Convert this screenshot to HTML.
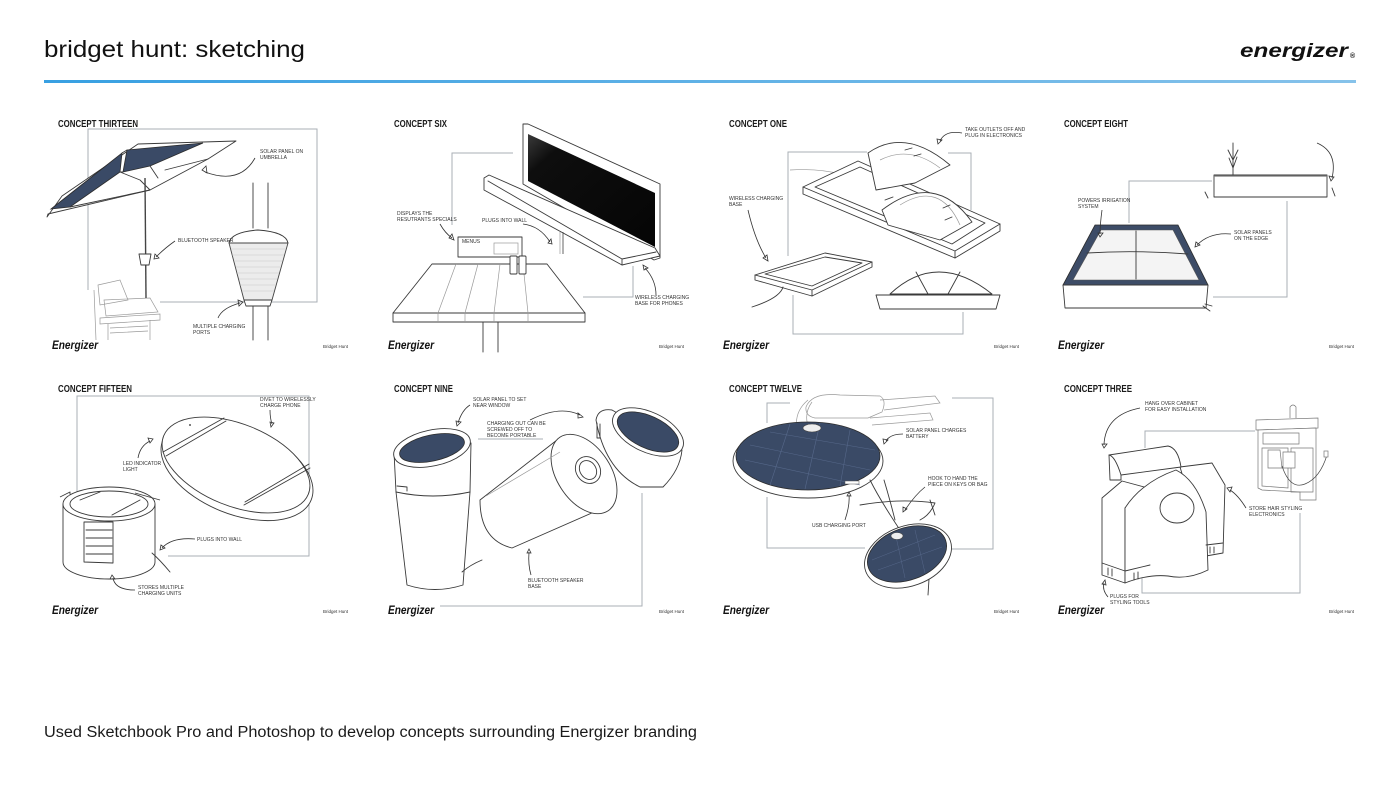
<!DOCTYPE html>
<html><head><meta charset="utf-8"><style>
html,body{margin:0;padding:0;background:#fff;}
svg{display:block;}
.t{font-family:"Liberation Sans",sans-serif;}
.ct{font-family:"Liberation Sans",sans-serif;font-weight:bold;font-size:10px;fill:#1a1a1a;}
.lb{font-family:"Liberation Sans",sans-serif;font-size:5px;fill:#333;}
.en{font-family:"Liberation Sans",sans-serif;font-weight:bold;font-style:italic;font-size:12px;fill:#111;}
.bh{font-family:"Liberation Sans",sans-serif;font-size:4.5px;fill:#333;}
.fr{fill:none;stroke:#a9afb6;stroke-width:1;}
.sk{fill:#fff;stroke:#3a3a3a;stroke-width:0.9;stroke-linejoin:round;}
.sn{fill:none;stroke:#3a3a3a;stroke-width:0.9;stroke-linejoin:round;stroke-linecap:round;}
.lt{fill:none;stroke:#9a9a9a;stroke-width:0.7;}
.ar{fill:none;stroke:#333;stroke-width:0.8;}
.nv{fill:#3a4a66;stroke:#2c2c2c;stroke-width:0.8;}
</style></head><body>
<svg width="1400" height="788" viewBox="0 0 1400 788" xmlns="http://www.w3.org/2000/svg">
<defs>
<linearGradient id="bl" x1="0" x2="1" y1="0" y2="0"><stop offset="0" stop-color="#38a0e2"/><stop offset="1" stop-color="#86c2ea"/></linearGradient>
<linearGradient id="scr" x1="0" y1="0" x2="1" y2="1"><stop offset="0" stop-color="#3a3a3a"/><stop offset="0.18" stop-color="#0e0e0e"/><stop offset="1" stop-color="#050505"/></linearGradient>
</defs>
<rect width="1400" height="788" fill="#fff"/>
<!-- header -->
<text class="t" x="44" y="57" font-size="23" fill="#111" textLength="261" lengthAdjust="spacingAndGlyphs">bridget hunt: sketching</text>
<text class="t" x="1240" y="57" font-size="19" font-weight="bold" font-style="italic" fill="#111" textLength="108" lengthAdjust="spacingAndGlyphs">energizer</text>
<text class="t" x="1350" y="58" font-size="7" font-weight="bold" fill="#111">®</text>
<rect x="44" y="80" width="1312" height="3" fill="url(#bl)"/>

<!-- Concept titles -->
<text class="ct" x="58" y="127" textLength="80" lengthAdjust="spacingAndGlyphs">CONCEPT THIRTEEN</text>
<text class="ct" x="394" y="127" textLength="53" lengthAdjust="spacingAndGlyphs">CONCEPT SIX</text>
<text class="ct" x="729" y="127" textLength="58" lengthAdjust="spacingAndGlyphs">CONCEPT ONE</text>
<text class="ct" x="1064" y="127" textLength="64" lengthAdjust="spacingAndGlyphs">CONCEPT EIGHT</text>
<text class="ct" x="58" y="392" textLength="74" lengthAdjust="spacingAndGlyphs">CONCEPT FIFTEEN</text>
<text class="ct" x="394" y="392" textLength="59" lengthAdjust="spacingAndGlyphs">CONCEPT NINE</text>
<text class="ct" x="729" y="392" textLength="73" lengthAdjust="spacingAndGlyphs">CONCEPT TWELVE</text>
<text class="ct" x="1064" y="392" textLength="68" lengthAdjust="spacingAndGlyphs">CONCEPT THREE</text>

<!-- logos -->
<g>
<text class="en" x="52" y="349" textLength="46" lengthAdjust="spacingAndGlyphs">Energizer</text>
<text class="en" x="388" y="349" textLength="46" lengthAdjust="spacingAndGlyphs">Energizer</text>
<text class="en" x="723" y="349" textLength="46" lengthAdjust="spacingAndGlyphs">Energizer</text>
<text class="en" x="1058" y="349" textLength="46" lengthAdjust="spacingAndGlyphs">Energizer</text>
<text class="en" x="52" y="614" textLength="46" lengthAdjust="spacingAndGlyphs">Energizer</text>
<text class="en" x="388" y="614" textLength="46" lengthAdjust="spacingAndGlyphs">Energizer</text>
<text class="en" x="723" y="614" textLength="46" lengthAdjust="spacingAndGlyphs">Energizer</text>
<text class="en" x="1058" y="614" textLength="46" lengthAdjust="spacingAndGlyphs">Energizer</text>
<text class="bh" x="323" y="348">Bridget Hunt</text>
<text class="bh" x="659" y="348">Bridget Hunt</text>
<text class="bh" x="994" y="348">Bridget Hunt</text>
<text class="bh" x="1329" y="348">Bridget Hunt</text>
<text class="bh" x="323" y="613">Bridget Hunt</text>
<text class="bh" x="659" y="613">Bridget Hunt</text>
<text class="bh" x="994" y="613">Bridget Hunt</text>
<text class="bh" x="1329" y="613">Bridget Hunt</text>
</g>

<!-- ============ PANEL 1: CONCEPT THIRTEEN ============ -->
<g>
<polyline class="fr" points="88,290 88,129 317,129 317,302 160,302"/>
<!-- chair -->
<g class="lt">
<path d="M94,290 L96,340 M98,285 L120,280 L128,300 L100,305 Z M104,300 L150,298 L158,312 L106,316 Z M100,318 L160,314 L160,320 L100,324 Z M108,324 L108,340 M150,320 L150,340 M110,328 L148,326 M110,333 L148,331"/>
</g>
<!-- umbrella canopy -->
<path class="sk" d="M47,217 L62,196 L138,144 L236,141 L208,159 L150,190 L48,214 Z"/>
<polygon class="nv" points="51,209 122,153 120,172 70,207"/>
<polygon class="nv" points="127,150 203,143 150,166 123,172"/>
<path class="sn" d="M122,153 L127,150 M120,172 L123,172 M70,207 L150,190 M120,172 L140,180 L150,190 M150,166 L158,178 M208,159 L165,170"/>
<line x1="145" y1="178" x2="146" y2="298" stroke="#444" stroke-width="1.4"/>
<path class="sk" d="M139,254 L151,254 L149,265 L141,265 Z"/>
<!-- big speaker -->
<path class="sn" d="M253,183 L253,228 M268,183 L268,228 M253,305 L253,340 M268,305 L268,340"/>
<path class="sk" d="M229,243 Q231,232 258,230 Q286,232 288,243 Z"/>
<path d="M229,243 L288,243 L272,300 L244,300 Z" fill="#ececec" stroke="#444" stroke-width="0.9"/>
<g stroke="#c8c8c8" stroke-width="0.6">
<line x1="231" y1="249" x2="286" y2="249"/><line x1="232" y1="255" x2="284" y2="255"/><line x1="234" y1="261" x2="282" y2="261"/><line x1="236" y1="267" x2="280" y2="267"/><line x1="237" y1="273" x2="279" y2="273"/><line x1="239" y1="279" x2="277" y2="279"/><line x1="240" y1="285" x2="276" y2="285"/><line x1="242" y1="291" x2="274" y2="291"/>
</g>
<path class="sk" d="M244,300 L272,300 L270,306 L246,306 Z"/>
<!-- labels/arrows -->
<text class="lb" x="260" y="153">SOLAR PANEL ON</text><text class="lb" x="260" y="159">UMBRELLA</text>
<path class="ar" d="M255,158 Q240,185 205,172"/><polygon class="ar" points="202,170 206,166 207,173"/>
<text class="lb" x="178" y="242">BLUETOOTH SPEAKER</text>
<path class="ar" d="M175,241 Q165,248 156,257"/><polygon class="ar" points="154,259 155,254 159,258"/>
<text class="lb" x="193" y="328">MULTIPLE CHARGING</text><text class="lb" x="193" y="334">PORTS</text>
<path class="ar" d="M218,318 Q222,308 240,303"/><polygon class="ar" points="243,302 238,300 239,306"/>
</g>

<!-- ============ PANEL 2: CONCEPT SIX ============ -->
<g>
<polyline class="fr" points="513,153 452,153 452,225"/>
<polyline class="fr" points="633,266 633,297 583,297"/>
<!-- screen -->
<path class="sk" d="M523,124 L528,124 L660,184 L660,258 L654,260 L523,184 Z" stroke-width="1.1"/>
<polygon points="528,134 655,193 655,247 528,181" fill="url(#scr)"/>
<!-- shelf -->
<path class="sk" d="M484,178 L489,175 L655,248 L660,256 L622,265 L484,190 Z"/>
<path class="sn" d="M488,181 L622,259 L656,252 M622,259 L622,265"/>
<!-- pole -->
<line x1="563" y1="232" x2="563" y2="254" stroke="#555" stroke-width="0.9"/>
<line x1="560" y1="232" x2="560" y2="254" stroke="#888" stroke-width="0.6"/>
<!-- table -->
<path class="sk" d="M432,264 L547,264 L585,313 L393,313 Z"/>
<path class="sk" d="M393,313 L585,313 L585,322 L393,322 Z"/>
<path class="lt" d="M456,264 L438,313 M478,264 L465,313 M500,264 L494,313 M523,264 L528,313 M438,313 L438,322 M465,313 L465,322 M494,313 L494,322 M528,313 L528,322"/>
<path class="sn" d="M483,322 L483,352 M498,322 L498,352"/>
<!-- menu box -->
<rect class="sk" x="458" y="237" width="64" height="20"/>
<rect class="lt" x="494" y="243" width="24" height="11"/>
<text class="lb" x="462" y="243" font-size="3">MENUS</text>
<rect class="sk" x="510" y="256" width="7" height="18" rx="1"/>
<rect class="sk" x="519" y="256" width="7" height="18" rx="1"/>
<!-- labels -->
<text class="lb" x="397" y="215">DISPLAYS THE</text><text class="lb" x="397" y="221">RESUTRANTS SPECIALS</text>
<path class="ar" d="M440,224 Q445,233 452,238"/><polygon class="ar" points="454,240 449,238 452,234"/>
<text class="lb" x="482" y="222">PLUGS INTO WALL</text>
<path class="ar" d="M523,224 Q540,226 550,242"/><polygon class="ar" points="552,244 548,243 551,239"/>
<text class="lb" x="635" y="299">WIRELESS CHARGING</text><text class="lb" x="635" y="305">BASE FOR PHONES</text>
<path class="ar" d="M656,295 Q656,280 645,268"/><polygon class="ar" points="643,265 644,270 648,268"/>
</g>

<!-- ============ PANEL 3: CONCEPT ONE ============ -->
<g>
<polyline class="fr" points="867,152 788,152 788,256"/>
<polyline class="fr" points="948,153 971,153 971,210"/>
<polyline class="fr" points="793,295 793,334 963,334 963,312"/>
<path class="lt" d="M790,170 Q820,168 845,175"/>
<!-- tray -->
<path class="sk" d="M803,187 L858,161 L1000,224 L1000,231 L955,258 L803,194 Z"/>
<path class="sn" d="M803,187 L955,251 L1000,224 M955,251 L955,258"/>
<path class="sn" d="M815,187 L860,167 L985,223 L952,244 Z" stroke="#666"/>
<!-- lower dome -->
<path class="sk" d="M882,210 Q935,170 972,222 L940,240 L888,225 Z"/>
<path class="lt" d="M900,205 Q940,180 960,225"/>
<path class="sn" d="M943,208 L950,205 M945,220 L952,217" stroke-width="1.3"/>
<!-- upper dome -->
<path class="sk" d="M868,153 Q905,127 950,165 L915,183 L876,190 Z"/>
<path class="lt" d="M880,160 Q910,145 940,168"/>
<path class="sn" d="M905,150 L912,148 M914,156 L921,154" stroke-width="1.3"/>
<path class="sn" d="M885,200 L893,197" stroke-width="1.2"/>
<!-- pad -->
<path class="sk" d="M755,275 L825,253 L872,262 L872,267 L812,296 L755,280 Z"/>
<path class="sn" d="M755,275 L812,290 L872,262 M812,290 L812,296"/>
<path class="sn" d="M765,274 L825,257 L862,263 L812,286 Z" stroke="#777"/>
<path class="sn" d="M783,287 Q780,298 752,307"/>
<!-- half dome -->
<path class="sk" d="M876,295 L1000,295 L996,309 L880,309 Z"/>
<path class="sk" d="M890,294 Q937,250 992,294 Z"/>
<path class="sn" d="M916,272 L928,294 M960,272 L948,294"/>
<!-- labels -->
<text class="lb" x="965" y="131">TAKE OUTLETS OFF AND</text><text class="lb" x="965" y="137">PLUG IN ELECTRONICS</text>
<path class="ar" d="M962,133 Q945,130 940,141"/><polygon class="ar" points="938,144 937,139 942,140"/>
<text class="lb" x="729" y="200">WIRELESS CHARGING</text><text class="lb" x="729" y="206">BASE</text>
<path class="ar" d="M748,210 Q755,240 766,258"/><polygon class="ar" points="768,261 763,258 767,255"/>
</g>

<!-- ============ PANEL 4: CONCEPT EIGHT ============ -->
<g>
<polyline class="fr" points="1129,223 1129,181 1212,181"/>
<polyline class="fr" points="1287,201 1287,297 1213,297"/>
<rect class="sk" x="1214" y="175" width="113" height="22"/>
<line x1="1214" y1="176" x2="1327" y2="176" stroke="#777" stroke-width="1.2"/>
<path class="sn" d="M1233,175 L1233,143 M1233,160 L1228,150 M1233,160 L1238,150 M1233,168 L1229,158 M1233,168 L1237,157" stroke="#777"/>
<path class="ar" d="M1317,143 Q1338,152 1332,178"/><polygon class="ar" points="1331,181 1329,176 1334,177"/>
<path class="sn" d="M1205,192 L1208,198 M1332,188 L1335,196" stroke="#777"/>
<!-- box -->
<polygon points="1095,225 1178,225 1208,285 1063,285" fill="#3d4c67" stroke="#2a2a2a" stroke-width="0.8"/>
<polygon points="1101,230 1173,230 1199,280 1073,280" fill="#f4f4f4" stroke="#555" stroke-width="0.6"/>
<path class="sn" d="M1136,231 L1136,279 M1087,253 Q1136,250 1188,254" stroke="#777"/>
<path class="sk" d="M1063,285 L1208,285 L1206,308 L1065,308 Z"/>
<path class="sn" d="M1203,306 L1210,311 M1205,304 L1212,306" stroke="#555"/>
<!-- labels -->
<text class="lb" x="1078" y="202">POWERS IRRIGATION</text><text class="lb" x="1078" y="208">SYSTEM</text>
<path class="ar" d="M1102,210 Q1100,225 1100,234"/><polygon class="ar" points="1100,237 1098,233 1103,233"/>
<text class="lb" x="1234" y="234">SOLAR PANELS</text><text class="lb" x="1234" y="240">ON THE EDGE</text>
<path class="ar" d="M1231,234 Q1210,232 1197,245"/><polygon class="ar" points="1195,247 1196,242 1200,245"/>
</g>

<!-- ============ PANEL 5: CONCEPT FIFTEEN ============ -->
<g>
<polyline class="fr" points="77,500 77,396 309,396 309,556 168,556"/>
<!-- oval pad -->
<ellipse class="sk" cx="237" cy="470" rx="80" ry="44" transform="rotate(22 237 470)"/>
<ellipse class="sk" cx="236" cy="465" rx="78" ry="41" transform="rotate(22 236 465)"/>
<path class="sn" d="M163,452 L224,418 M166,456 L226,421 M244,505 L310,468 M245,502 L309,464"/>
<circle cx="190" cy="425" r="1" fill="#555"/>
<!-- cylinder -->
<path class="sk" d="M63,504 L63,562 A46,17 0 0 0 155,562 L155,504 Z"/>
<ellipse class="sk" cx="109" cy="504" rx="46" ry="17"/>
<ellipse class="sn" cx="109" cy="504" rx="39" ry="13" stroke="#666"/>
<path class="sn" d="M84,522 L113,522 L113,563 L84,562 Z M86,530 L112,530 M86,538 L112,538 M86,546 L112,546 M86,554 L112,554 M80,500 L100,492 M112,515 L140,500"/>
<path class="sk" d="M60,497 L70,492 L70,495 M135,493 L160,500"/>
<path class="sn" d="M152,553 Q160,560 170,572"/>
<!-- labels -->
<text class="lb" x="260" y="401">DIVET TO WIRELESSLY</text><text class="lb" x="260" y="407">CHARGE PHONE</text>
<path class="ar" d="M270,410 Q270,418 272,424"/><polygon class="ar" points="271,427 270,422 274,423"/>
<text class="lb" x="123" y="465">LED INDICATOR</text><text class="lb" x="123" y="471">LIGHT</text>
<path class="ar" d="M138,458 Q140,446 150,441"/><polygon class="ar" points="153,439 148,438 150,443"/>
<text class="lb" x="197" y="541">PLUGS INTO WALL</text>
<path class="ar" d="M195,539 Q172,537 162,548"/><polygon class="ar" points="160,550 161,545 165,548"/>
<text class="lb" x="138" y="589">STORES MULTIPLE</text><text class="lb" x="138" y="595">CHARGING UNITS</text>
<path class="ar" d="M135,590 Q115,590 113,578"/><polygon class="ar" points="112,575 110,579 115,579"/>
</g>

<!-- ============ PANEL 6: CONCEPT NINE ============ -->
<g>
<line class="fr" x1="478" y1="439" x2="543" y2="439"/>
<polyline class="fr" points="642,493 642,606 440,606"/>
<!-- left cylinder -->
<path class="sk" d="M394,452 L396,492 L407,585 Q435,594 463,585 L470,492 L471,443 Z"/>
<path class="sn" d="M396,492 Q433,500 470,492"/>
<path class="sn" d="M397,486 L407,487 L407,491" stroke="#666"/>
<ellipse class="sk" cx="432" cy="448" rx="39" ry="18" transform="rotate(-12 432 448)"/>
<ellipse class="nv" cx="432" cy="448" rx="33" ry="13" transform="rotate(-12 432 448)"/>
<path class="sn" d="M462,572 Q470,565 482,560" stroke="#777"/>
<!-- middle cylinder -->
<path class="sk" d="M480,500 L557,440 L610,505 L512,548 Q480,540 480,500 Z"/>
<ellipse class="sk" cx="584" cy="474" rx="27" ry="44" transform="rotate(-33 584 474)"/>
<ellipse class="sn" cx="588" cy="470" rx="12" ry="14" transform="rotate(-33 588 470)"/>
<ellipse class="sn" cx="588" cy="470" rx="8" ry="10" transform="rotate(-33 588 470)"/>
<path class="lt" d="M486,496 L560,452"/>
<!-- right piece -->
<path class="sk" d="M596,420 Q598,408 612,410 L682,450 Q680,470 663,487 L640,487 Q605,470 596,420 Z"/>
<ellipse class="sk" cx="648" cy="432" rx="38" ry="20" transform="rotate(25 648 432)"/>
<ellipse class="nv" cx="648" cy="432" rx="33" ry="16" transform="rotate(25 648 432)"/>
<path class="sn" d="M597,423 L597,438 L600,438 L600,424" stroke="#666"/>
<!-- labels -->
<text class="lb" x="473" y="401">SOLAR PANEL TO SET</text><text class="lb" x="473" y="407">NEAR WINDOW</text>
<path class="ar" d="M470,405 Q462,410 458,423"/><polygon class="ar" points="457,426 456,421 461,422"/>
<text class="lb" x="487" y="425">CHARGING OUT CAN BE</text><text class="lb" x="487" y="431">SCREWED OFF TO</text><text class="lb" x="487" y="437">BECOME PORTABLE</text>
<path class="ar" d="M530,420 Q560,405 580,415"/><polygon class="ar" points="583,417 578,413 578,418"/>
<text class="lb" x="528" y="582">BLUETOOTH SPEAKER</text><text class="lb" x="528" y="588">BASE</text>
<path class="ar" d="M531,575 Q528,565 529,552"/><polygon class="ar" points="529,549 527,553 531,553"/>
</g>

<!-- ============ PANEL 7: CONCEPT TWELVE ============ -->
<g>
<polyline class="fr" points="790,403 767,403 767,423"/>
<polyline class="fr" points="767,497 767,548 865,548"/>
<polyline class="fr" points="952,398 993,398 993,549 952,549"/>
<!-- keys / bag sketch -->
<path class="lt" d="M806,407 Q812,392 840,395 L880,396 Q887,400 882,412 L868,418 L815,418 Q805,416 806,407 Z M880,400 L935,396 L940,403 L884,410 M870,418 L930,413 L933,420 L872,425 M800,440 Q790,415 808,400 M815,440 Q800,418 812,402"/>
<!-- big disc -->
<ellipse class="sk" cx="808" cy="461" rx="75" ry="37"/>
<ellipse class="nv" cx="808" cy="456" rx="72" ry="34"/>
<g stroke="#56688a" stroke-width="0.6">
<line x1="750" y1="445" x2="870" y2="470"/><line x1="745" y1="460" x2="860" y2="485"/><line x1="770" y1="432" x2="875" y2="450"/>
<line x1="790" y1="424" x2="770" y2="485"/><line x1="820" y1="423" x2="805" y2="489"/><line x1="850" y1="430" x2="840" y2="486"/>
</g>
<ellipse cx="812" cy="428" rx="9" ry="4" fill="#eee" stroke="#444" stroke-width="0.6"/>
<rect x="845" y="481" width="14" height="3" fill="#fff" stroke="#555" stroke-width="0.5"/>
<!-- cables -->
<path class="sn" d="M884,480 Q890,500 895,520 M900,530 Q880,500 870,480 M860,505 Q900,498 935,503 Q930,515 920,520" stroke="#555"/>
<path class="sn" d="M930,500 L935,515 M930,563 L928,595" stroke="#555"/>
<!-- small disc -->
<ellipse class="sk" cx="908" cy="556" rx="45" ry="30" transform="rotate(-20 908 556)"/>
<ellipse class="nv" cx="907" cy="554" rx="41" ry="26" transform="rotate(-20 907 554)"/>
<g stroke="#56688a" stroke-width="0.5">
<line x1="872" y1="560" x2="935" y2="535"/><line x1="878" y1="570" x2="942" y2="547"/><line x1="895" y1="532" x2="905" y2="578"/><line x1="915" y1="530" x2="925" y2="573"/>
</g>
<ellipse cx="897" cy="536" rx="6" ry="3.5" fill="#eee" stroke="#444" stroke-width="0.6"/>
<!-- labels -->
<text class="lb" x="906" y="432">SOLAR PANEL CHARGES</text><text class="lb" x="906" y="438">BATTERY</text>
<path class="ar" d="M903,434 Q890,434 886,441"/><polygon class="ar" points="884,444 883,439 888,440"/>
<text class="lb" x="928" y="480">HOOK TO HAND THE</text><text class="lb" x="928" y="486">PIECE ON KEYS OR BAG</text>
<path class="ar" d="M925,487 Q915,495 905,510"/><polygon class="ar" points="903,512 903,507 907,509"/>
<text class="lb" x="812" y="527">USB CHARGING PORT</text>
<path class="ar" d="M845,520 Q850,505 849,495"/><polygon class="ar" points="849,492 847,496 851,496"/>
</g>

<!-- ============ PANEL 8: CONCEPT THREE ============ -->
<g>
<polyline class="fr" points="1145,448 1145,431 1255,431"/>
<polyline class="fr" points="1142,575 1142,593 1300,593 1300,513"/>
<!-- sink cabinet -->
<g stroke="#777" stroke-width="0.7" fill="#fff">
<path d="M1256,420 L1318,418 L1318,428 L1256,430 Z"/>
<path d="M1258,430 L1316,428 L1316,500 L1300,500 L1300,492 L1262,490 L1258,488 Z"/>
<path d="M1263,433 L1299,433 L1299,444 L1263,444 Z" fill="none"/>
<path d="M1262,448 L1288,448 L1288,488 L1262,486 Z M1291,448 L1313,448 L1313,492 L1291,492 Z" fill="none"/>
<path d="M1290,418 L1290,407 Q1293,403 1296,407 L1296,418" fill="none"/>
<path d="M1268,450 L1280,450 L1282,468 L1268,468 Z M1283,452 L1295,452 L1295,468 L1283,468 Z"/>
<path d="M1282,466 Q1290,490 1305,484 Q1320,478 1327,455" fill="none" stroke="#444"/>
<rect x="1324" y="451" width="4" height="6"/>
</g>
<!-- cabinet unit -->
<path class="sk" d="M1102,498 L1122,481 L1148,488 L1125,508 L1125,583 L1102,575 Z"/>
<path class="sk" d="M1180,467 L1212,463 L1225,485 L1223,553 L1206,556 L1190,500 Z"/>
<path class="sk" d="M1125,508 Q1142,482 1176,470 Q1196,480 1206,512 L1208,570 Q1188,580 1168,576 Q1148,574 1125,583 Z"/>
<path class="sk" d="M1109,455 L1168,446 Q1178,448 1181,467 L1121,475 L1121,480 L1110,480 Z"/>
<path class="sn" d="M1109,455 Q1115,456 1121,475"/>
<ellipse class="sk" cx="1177" cy="508" rx="17" ry="15"/>
<path class="sn" d="M1102,563 L1125,571 L1150,565 M1206,545 L1223,543 M1108,568 L1108,575 M1112,569 L1112,576 M1134,573 L1134,580 M1138,572 L1138,579 M1210,547 L1210,553 M1214,547 L1214,553" stroke="#555"/>
<!-- labels -->
<text class="lb" x="1145" y="405">HANG OVER CABINET</text><text class="lb" x="1145" y="411">FOR EASY INSTALLATION</text>
<path class="ar" d="M1140,408 Q1105,415 1104,445"/><polygon class="ar" points="1104,448 1102,444 1107,444"/>
<text class="lb" x="1249" y="510">STORE HAIR STYLING</text><text class="lb" x="1249" y="516">ELECTRONICS</text>
<path class="ar" d="M1246,508 Q1238,495 1230,490"/><polygon class="ar" points="1227,488 1232,487 1230,492"/>
<text class="lb" x="1110" y="598">PLUGS FOR</text><text class="lb" x="1110" y="604">STYLING TOOLS</text>
<path class="ar" d="M1108,597 Q1102,590 1104,583"/><polygon class="ar" points="1105,580 1102,584 1106,585"/>
</g>

<!-- caption -->
<text class="t" x="44" y="737" font-size="15.5" fill="#1a1a1a" textLength="653" lengthAdjust="spacingAndGlyphs">Used Sketchbook Pro and Photoshop to develop concepts surrounding Energizer branding</text>
</svg>
</body></html>
